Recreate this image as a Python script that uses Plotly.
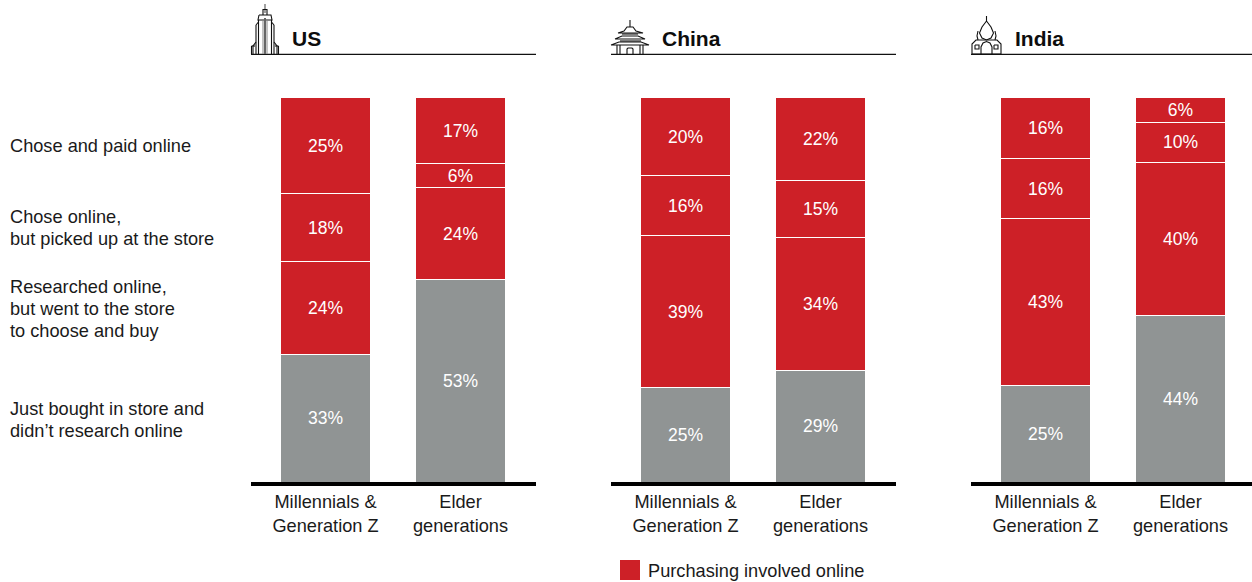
import plotly.graph_objects as go

W, H = 1252, 582
RED = "#cd2027"
GREY = "#909494"
INK = "#1a1a1a"
FONT = "Liberation Sans, Arial, sans-serif"
TXT = 18.2

countries = ["US", "China", "India"]
cohorts = ["Millennials &<br>Generation Z", "Elder<br>generations"]
stages = [
    "Just bought in store and<br>didn’t research online",
    "Researched online,<br>but went to the store<br>to choose and buy",
    "Chose online,<br>but picked up at the store",
    "Chose and paid online",
]
# printed percentages, one row per stage, [Millennials, Elder]
us_labels = [[33, 53], [24, 24], [18, 6], [25, 17]]
china_labels = [[25, 29], [39, 34], [16, 15], [20, 22]]
india_labels = [[25, 44], [43, 40], [16, 10], [16, 6]]
# segment heights (they differ slightly from the printed figures)
us_heights = [[33.1, 52.6], [24.2, 24.0], [17.7, 6.2], [25.0, 17.2]]
china_heights = [[24.5, 28.9], [39.6, 34.6], [15.6, 14.8], [20.3, 21.7]]
india_heights = [[25.0, 43.2], [43.5, 39.9], [15.6, 10.4], [15.9, 6.5]]
all_labels = [us_labels, china_labels, india_labels]
all_heights = [us_heights, china_heights, india_heights]
stage_colors = [GREY, RED, RED, RED]
legend_label = "Purchasing involved online"

panel_left = [251, 611, 971]
panel_right = [536, 896, 1252]
first_center = [325.5, 685.5, 1045.5]
STEP = 135
PLOT_TOP, PLOT_BOTTOM = 97.5, 482


def px(x):
    return x / W


def py(y):
    return 1 - y / H


def path(points, close=False):
    s = "M " + " L ".join(f"{px(x):.5f},{py(y):.5f}" for x, y in points)
    return s + (" Z" if close else "")


fig = go.Figure()
layout = dict(
    width=W, height=H, autosize=False,
    margin=dict(l=0, r=0, t=0, b=0),
    paper_bgcolor="white", plot_bgcolor="white",
    barmode="stack", showlegend=False,
    uniformtext=dict(minsize=17.5, mode="show"),
    font=dict(family=FONT, size=TXT, color=INK),
)
shapes, annotations = [], []

for i, heights in enumerate(all_heights):
    suffix = "" if i == 0 else str(i + 1)
    for s, row in enumerate(heights):
        fig.add_trace(go.Bar(
            x=cohorts, y=row, name=stages[s],
            xaxis=f"x{suffix}", yaxis=f"y{suffix}",
            width=90 / STEP,
            marker=dict(color=stage_colors[s], line=dict(color="white", width=1)),
            text=[f"{v}%" for v in all_labels[i][s]],
            textposition="inside", insidetextanchor="middle", textangle=0,
            insidetextfont=dict(color="white", size=17.5, family=FONT),
            cliponaxis=False,
        ))
    lo = (panel_left[i] - first_center[i]) / STEP
    hi = (panel_right[i] - first_center[i]) / STEP
    layout[f"xaxis{suffix}"] = dict(
        domain=[px(panel_left[i]), px(panel_right[i])],
        range=[lo, hi], type="category", categoryorder="array", categoryarray=cohorts,
        showgrid=False, zeroline=False, showline=True, linecolor="#000", linewidth=4,
        ticks="", tickfont=dict(size=TXT, color=INK, family=FONT),
        anchor=f"y{suffix}", fixedrange=True,
    )
    layout[f"yaxis{suffix}"] = dict(
        domain=[py(PLOT_BOTTOM), py(PLOT_TOP)], range=[0, 100],
        showgrid=False, zeroline=False, showticklabels=False, showline=False,
        anchor=f"x{suffix}", fixedrange=True,
    )
    shapes.append(dict(type="line", xref="paper", yref="paper",
                       x0=px(panel_left[i]), x1=px(panel_right[i]),
                       y0=py(54.3), y1=py(54.3), line=dict(color="#111", width=1.3)))

title_x = [290, 659.5, 1012.5]
for name, x in zip(countries, title_x):
    annotations.append(dict(text=f"<b>{name}</b>", x=px(x), y=py(39), xref="paper", yref="paper",
                            xanchor="left", yanchor="middle", showarrow=False,
                            font=dict(size=21, color="#0d0d0d", family=FONT)))

row_y = {0: [409, 431], 1: [287, 309, 331], 2: [217, 239], 3: [146]}
for s, label in enumerate(stages):
    for line, y in zip(label.split("<br>"), row_y[s]):
        annotations.append(dict(text=line, x=px(8), y=py(y), xref="paper", yref="paper",
                                xanchor="left", yanchor="middle", showarrow=False,
                                align="left", font=dict(size=TXT, color=INK, family=FONT)))

shapes.append(dict(type="rect", xref="paper", yref="paper", x0=px(620), x1=px(640),
                   y0=py(580), y1=py(560), fillcolor=RED, line=dict(width=0)))
annotations.append(dict(text=legend_label, x=px(646), y=py(570.5), xref="paper", yref="paper",
                        xanchor="left", yanchor="middle", showarrow=False,
                        font=dict(size=TXT, color=INK, family=FONT)))


# Decorative line icons next to the country titles
def icon(points, close=False, width=1.1, color="#111"):
    shapes.append(dict(type="path", xref="paper", yref="paper", path=path(points, close),
                       line=dict(color=color, width=width)))


# US skyscraper
icon([(265, 4), (265, 13)], color="#555")
icon([(263, 15), (263, 9.5), (267, 9.5), (267, 15)])
icon([(259, 15), (271, 15), (272, 20), (258, 20), (259, 15)])
icon([(258.5, 20), (258.5, 54)])
icon([(271.5, 20), (271.5, 54)])
icon([(256, 25), (256, 54)])
icon([(274, 25), (274, 54)])
icon([(256, 25), (258.5, 22)])
icon([(274, 25), (271.5, 22)])
icon([(263, 20), (263, 54)], width=1, color="#888")
icon([(265, 18), (265, 54)], width=2, color="#666")
icon([(267, 20), (267, 54)], width=1, color="#888")
icon([(256, 42), (253, 46), (253, 54)])
icon([(274, 42), (277, 46), (277, 54)])
icon([(251.5, 46), (251.5, 54)])
icon([(278.5, 46), (278.5, 54)])
icon([(251.5, 46), (255, 46)])
icon([(275, 46), (278.5, 46)])

# China pagoda
icon([(630, 20), (630, 27)])
icon([(618, 33), (624, 31), (627, 27), (633, 27), (636, 31), (643, 33), (618, 33)])
icon([(622, 34), (638, 34)])
icon([(615, 39), (622, 36), (638, 36), (645, 39), (615, 39)])
icon([(620, 41), (641, 41)])
icon([(611, 45), (619, 42), (641, 42), (649, 45), (611, 45)])
icon([(617, 45), (617, 54)])
icon([(620, 45), (620, 54)])
icon([(640, 45), (640, 54)])
icon([(643, 45), (643, 54)])
icon([(627, 54), (627, 49), (628, 48), (632, 48), (633, 49), (633, 54)])

# India palace
icon([(986.5, 16), (986.5, 21)])
icon([(986.5, 21), (982, 27), (979.5, 33), (982, 38), (986.5, 40), (991, 38), (993.5, 33), (991, 27), (986.5, 21)])
icon([(978, 31), (977, 36), (978, 40)])
icon([(995, 31), (996, 36), (995, 40)])
icon([(972, 54), (972, 44), (976, 40), (997, 40), (1001, 44), (1001, 54), (972, 54)])
icon([(981, 54), (981, 47), (983, 43), (986.5, 41.5), (990, 43), (992, 47), (992, 54)])
icon([(975, 45), (979, 45), (979, 49), (975, 49), (975, 45)])
icon([(994, 45), (998, 45), (998, 49), (994, 49), (994, 45)])

layout["shapes"] = shapes
layout["annotations"] = annotations
fig.update_layout(**layout)
fig.write_html("out.html", post_script="document.body.style.margin='0';",
               config={"displayModeBar": False})
